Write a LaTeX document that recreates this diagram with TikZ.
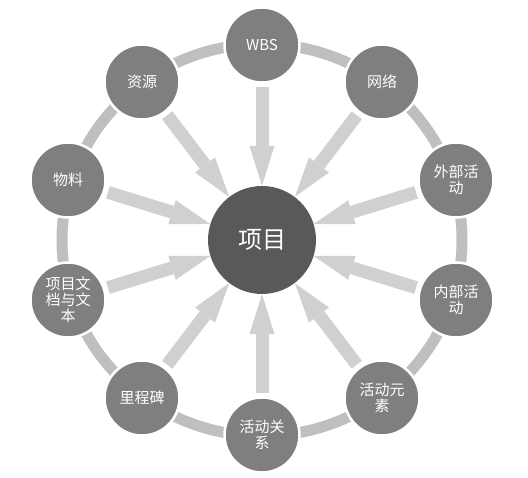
\documentclass[tikz,border=0pt]{standalone}
\usepackage{fontspec}
\setmainfont{Noto Sans CJK SC}
\usetikzlibrary{arrows.meta}
\definecolor{ringgray}{HTML}{BFBFBF}
\definecolor{spokegray}{HTML}{D0D0D0}
\definecolor{leafgray}{HTML}{7F7F7F}
\definecolor{hubgray}{HTML}{595959}
\tikzset{
  hub/.style={circle,fill=hubgray,minimum size=108pt,inner sep=0pt,text=white,font=\fontsize{24}{26}\selectfont},
  leaf/.style={circle,fill=leafgray,draw=white,line width=2.5pt,minimum size=75pt,inner sep=0pt,text=white,align=center,font=\fontsize{15}{16}\selectfont},
  spoke/.style={draw=spokegray,line width=13pt,shorten <=3pt,-{Triangle[width=25pt,length=40pt,line width=0pt]}},
  ring/.style={draw=ringgray,line width=11pt}
}
\begin{document}
\begin{tikzpicture}[x=1pt,y=1pt]
\useasboundingbox (0,0) rectangle (528,478);
\draw[ring] (262,238) ellipse [x radius=200, y radius=196];
%%%%%%%%%%%%%%%%%%%%%%%%%%%%%%%%%
\node[hub] (hub) at (262,238) {项目};
\node[leaf] (wbs) at (262,433) {WBS};
\node[leaf] (net) at (382,396) {网络};
\node[leaf] (ext) at (456,298) {外部活\\动};
\node[leaf] (int) at (456,178) {内部活\\动};
\node[leaf] (elem) at (382,80) {活动元\\素};
\node[leaf] (rel) at (262,43) {活动关\\系};
\node[leaf] (mile) at (142,80) {里程碑};
\node[leaf] (docs) at (68,178) {项目文\\档与文\\本};
\node[leaf] (mat) at (68,298) {物料};
\node[leaf] (res) at (142,396) {资源};
%%%%%%%%%%%%%%%%%%%%%%%%%%%%%%%%%
\draw[spoke] (wbs) -- (hub);
\draw[spoke] (net) -- (hub);
\draw[spoke] (ext) -- (hub);
\draw[spoke] (int) -- (hub);
\draw[spoke] (elem) -- (hub);
\draw[spoke] (rel) -- (hub);
\draw[spoke] (mile) -- (hub);
\draw[spoke] (docs) -- (hub);
\draw[spoke] (mat) -- (hub);
\draw[spoke] (res) -- (hub);
\end{tikzpicture}
\end{document}
